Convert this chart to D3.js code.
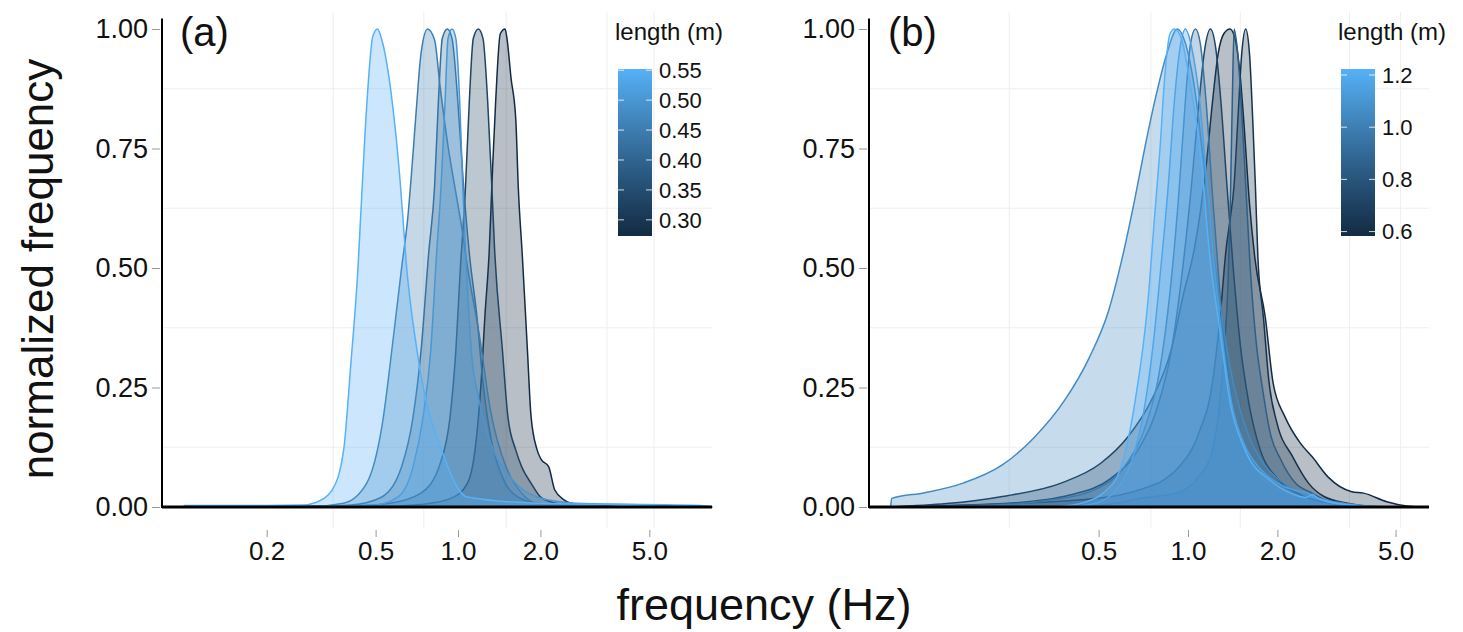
<!DOCTYPE html>
<html lang="en">
<head>
<meta charset="UTF-8">
<title>normalized frequency vs frequency (Hz)</title>
<script src="https://d3js.org/d3.v7.min.js"></script>
<style>
  body { margin: 0; background: #fff; font-family: "Liberation Sans", Arial, sans-serif; }
  text { fill: #111; }
</style>
</head>
<body>
<div id="chart"></div>
<script>
// shared y ticks
const yTicks = [0, 0.25, 0.5, 0.75, 1];
const yMinor = [0.125, 0.375, 0.625, 0.875];

// ---- panel (a) ----
const xTicksA = [0.2, 0.5, 1, 2, 5];
const xGridA = [0.35, 0.75, 1.5, 3.5, 5.2];
const legendTicksA = [0.30, 0.35, 0.40, 0.45, 0.50, 0.55];
const legendRangeA = [0.273, 0.552];
const lengthsA = [0.273, 0.33, 0.42, 0.45, 0.50, 0.552];

// [frequency (Hz), normalized frequency]
const densA_273 = [[0.10,0],[0.5,0.001],[0.75,0.006],[0.95,0.019],[1.083,0.05],[1.154,0.12],[1.214,0.26],[1.254,0.40],[1.30,0.535],[1.338,0.712],[1.373,0.85],[1.427,0.99],[1.485,1.0],[1.51,0.98],[1.56,0.90],[1.626,0.81],[1.66,0.67],[1.72,0.52],[1.793,0.328],[1.848,0.19],[1.944,0.12],[2.01,0.10],[2.145,0.084],[2.255,0.036],[2.44,0.015],[2.69,0.006],[3.0,0.006],[3.5,0.002],[4.5,0]];
const densA_330 = [[0.10,0],[0.4,0.002],[0.564,0.008],[0.732,0.029],[0.862,0.092],[0.935,0.188],[0.982,0.328],[1.02,0.50],[1.065,0.67],[1.10,0.85],[1.137,0.98],[1.186,1.0],[1.234,0.98],[1.283,0.85],[1.329,0.67],[1.36,0.54],[1.452,0.33],[1.522,0.188],[1.626,0.119],[1.709,0.084],[1.848,0.05],[2.01,0.02],[2.29,0.008],[3.0,0.003],[4.0,0]];
const densA_420 = [[0.10,0],[0.3,0.001],[0.406,0.004],[0.527,0.021],[0.622,0.084],[0.685,0.188],[0.733,0.328],[0.781,0.53],[0.821,0.67],[0.848,0.85],[0.876,0.98],[0.914,1.0],[0.951,0.98],[0.998,0.85],[1.048,0.67],[1.10,0.53],[1.173,0.397],[1.234,0.26],[1.316,0.146],[1.452,0.063],[1.654,0.021],[1.944,0.008],[3.0,0.002],[4.0,0]];
const densA_450 = [[0.10,0],[0.3,0.002],[0.382,0.008],[0.464,0.05],[0.527,0.168],[0.583,0.364],[0.622,0.5],[0.654,0.6],[0.685,0.74],[0.708,0.85],[0.733,0.95],[0.774,1.0],[0.821,0.977],[0.860,0.88],[0.920,0.754],[0.982,0.657],[1.031,0.586],[1.083,0.502],[1.193,0.364],[1.316,0.2],[1.497,0.084],[1.709,0.029],[1.944,0.008],[3.0,0.002],[4.0,0]];
const densA_500 = [[0.10,0],[0.3,0.001],[0.495,0.004],[0.603,0.021],[0.685,0.084],[0.745,0.188],[0.795,0.328],[0.835,0.53],[0.867,0.67],[0.897,0.85],[0.919,0.98],[0.951,1.0],[0.982,0.98],[1.014,0.85],[1.041,0.67],[1.065,0.538],[1.118,0.328],[1.193,0.224],[1.316,0.134],[1.549,0.063],[1.944,0.021],[2.69,0.008],[5.16,0.004],[7.0,0]];
const densA_552 = [[0.10,0.003],[0.2,0.003],[0.27,0.004],[0.304,0.01],[0.347,0.036],[0.382,0.119],[0.406,0.30],[0.431,0.5],[0.442,0.62],[0.464,0.84],[0.488,0.984],[0.508,1.0],[0.527,0.977],[0.574,0.851],[0.614,0.684],[0.630,0.6],[0.645,0.52],[0.708,0.328],[0.889,0.105],[1.079,0.021],[1.944,0.008],[7.66,0.003],[8.5,0]];

// ---- panel (b) ----
const xTicksB = [0.5, 1, 2, 5];
const xGridB = [0.25, 0.75, 1.5, 3.5, 5.2];
const legendTicksB = [0.6, 0.8, 1.0, 1.2];
const legendRangeB = [0.583, 1.223];
const lengthsB = [0.585, 0.62, 0.72, 0.85, 0.95, 1.05, 1.15, 1.223];

const densB_585 = [[0.10,0],[0.237,0.022],[0.374,0.05],[0.507,0.091],[0.628,0.147],[0.754,0.224],[0.877,0.328],[0.961,0.44],[1.05,0.54],[1.102,0.62],[1.154,0.72],[1.208,0.845],[1.264,0.949],[1.32,0.99],[1.385,1.0],[1.44,0.98],[1.50,0.90],[1.54,0.81],[1.611,0.635],[1.68,0.52],[1.82,0.398],[1.935,0.259],[2.12,0.189],[2.393,0.133],[2.62,0.105],[2.96,0.063],[3.56,0.032],[3.9,0.029],[4.67,0.011],[5.45,0.002],[6.0,0]];
const densB_620 = [[0.10,0],[0.175,0.004],[0.436,0.015],[0.688,0.036],[0.933,0.084],[1.086,0.154],[1.208,0.259],[1.283,0.398],[1.343,0.538],[1.385,0.6],[1.428,0.67],[1.472,0.81],[1.517,0.949],[1.564,1.0],[1.611,0.949],[1.652,0.81],[1.687,0.67],[1.72,0.52],[1.794,0.398],[1.876,0.259],[1.995,0.175],[2.253,0.105],[2.545,0.05],[2.87,0.022],[3.45,0.008],[4.27,0]];
const densB_720 = [[0.10,0],[0.25,0.008],[0.4,0.025],[0.55,0.06],[0.68,0.12],[0.78,0.2],[0.88,0.33],[0.96,0.5],[1.03,0.68],[1.09,0.85],[1.14,0.96],[1.19,1.0],[1.24,0.96],[1.29,0.85],[1.35,0.68],[1.42,0.5],[1.50,0.34],[1.60,0.22],[1.75,0.12],[2.0,0.06],[2.4,0.025],[3.0,0.008],[4.0,0]];
const densB_850 = [[0.45,0],[0.6,0.01],[0.688,0.018],[0.777,0.022],[0.933,0.031],[1.086,0.063],[1.19,0.105],[1.264,0.189],[1.323,0.328],[1.364,0.468],[1.39,0.65],[1.41,0.85],[1.43,1.0],[1.47,0.95],[1.55,0.72],[1.62,0.5],[1.70,0.34],[1.78,0.25],[1.9,0.15],[2.05,0.1],[2.3,0.05],[2.6,0.03],[3.0,0.01],[3.5,0]];
const densB_950 = [[0.10,0],[0.2,0.003],[0.35,0.015],[0.5,0.04],[0.62,0.09],[0.72,0.17],[0.80,0.28],[0.87,0.45],[0.93,0.65],[0.98,0.85],[1.02,0.97],[1.06,1.0],[1.10,0.97],[1.15,0.85],[1.21,0.65],[1.28,0.45],[1.35,0.30],[1.44,0.18],[1.58,0.10],[1.8,0.05],[2.1,0.025],[2.6,0.01],[3.5,0]];
const densB_1050 = [[0.0997,0],[0.1005,0.018],[0.13,0.03],[0.175,0.05],[0.237,0.088],[0.303,0.145],[0.386,0.225],[0.463,0.31],[0.54,0.41],[0.60,0.52],[0.66,0.64],[0.72,0.76],[0.78,0.86],[0.85,0.95],[0.92,1.0],[0.98,0.97],[1.05,0.88],[1.13,0.72],[1.21,0.55],[1.30,0.40],[1.42,0.26],[1.6,0.15],[1.8,0.09],[2.1,0.05],[2.5,0.025],[3.2,0.01],[4.5,0]];
const densB_1150 = [[0.40,0],[0.5,0.01],[0.58,0.04],[0.65,0.1],[0.71,0.2],[0.76,0.33],[0.81,0.5],[0.86,0.68],[0.90,0.85],[0.94,0.96],[0.98,1.0],[1.03,0.96],[1.09,0.86],[1.15,0.70],[1.22,0.52],[1.30,0.36],[1.4,0.22],[1.55,0.13],[1.75,0.08],[2.0,0.05],[2.3,0.035],[2.5,0.03],[2.7,0.02],[3.2,0.008],[4.5,0]];
const densB_1223 = [[0.36,0],[0.45,0.01],[0.52,0.03],[0.59,0.077],[0.663,0.22],[0.733,0.43],[0.77,0.6],[0.805,0.75],[0.835,0.9],[0.87,0.99],[0.90,1.0],[0.95,0.98],[1.02,0.88],[1.097,0.75],[1.186,0.52],[1.28,0.37],[1.385,0.22],[1.555,0.12],[1.888,0.056],[2.2,0.03],[2.38,0.022],[2.5,0.02],[2.62,0.026],[2.75,0.018],[3.2,0.007],[4.9,0]];

const W = 1463, H = 632;
const svg = d3.select("#chart").append("svg").attr("width", W).attr("height", H);

const y = d3.scaleLinear().domain([0, 1]).range([507, 29]);

const panels = [
  { label: "(a)", range: [162, 712], domain: [0.0829, 8.47], xTicks: xTicksA, grid: xGridA,
    lengths: lengthsA, curves: [densA_273, densA_330, densA_420, densA_450, densA_500, densA_552],
    legendRange: legendRangeA, legendTicks: legendTicksA, legendFmt: d3.format(".2f"),
    legendX: 618, labelX: 180 },
  { label: "(b)", range: [869, 1429], domain: [0.0843, 6.48], xTicks: xTicksB, grid: xGridB,
    lengths: lengthsB, curves: [densB_585, densB_620, densB_720, densB_850, densB_950, densB_1050, densB_1150, densB_1223],
    legendRange: legendRangeB, legendTicks: legendTicksB, legendFmt: d3.format(".1f"),
    legendX: 1341, labelX: 888 }
];

panels.forEach((p, pi) => {
  const x = d3.scaleLog().domain(p.domain).range(p.range);
  const color = d3.scaleLinear().domain(p.legendRange)
                  .range(["#132B43", "#56B1F7"]).interpolate(d3.interpolateLab);
  const g = svg.append("g");

  // faint grid
  g.selectAll(".hg").data(yMinor).enter().append("line")
   .attr("x1", p.range[0]).attr("x2", p.range[1])
   .attr("y1", d => y(d)).attr("y2", d => y(d))
   .attr("stroke", "#efefef").attr("stroke-width", 1);
  g.selectAll(".vg").data(p.grid).enter().append("line")
   .attr("x1", d => x(d)).attr("x2", d => x(d))
   .attr("y1", 12).attr("y2", 528)
   .attr("stroke", "#efefef").attr("stroke-width", 1);

  // densities, drawn from short to long length
  const area = d3.area()
                 .x(d => x(d[0]))
                 .y0(y(0))
                 .y1(d => y(d[1]))
                 .curve(d3.curveMonotoneX);
  const order = d3.range(p.curves.length).sort((a, b) => p.lengths[a] - p.lengths[b]);
  order.forEach(i => {
    const c = color(p.lengths[i]);
    g.append("path")
     .datum(p.curves[i])
     .attr("d", area)
     .attr("fill", c).attr("fill-opacity", 0.3)
     .attr("stroke", c).attr("stroke-width", 1.5)
     .attr("stroke-linejoin", "round");
  });

  // axis lines
  g.append("line")
   .attr("x1", p.range[0]).attr("x2", p.range[0])
   .attr("y1", y(1.022)).attr("y2", y(0) + 1)
   .attr("stroke", "#000").attr("stroke-width", 2);
  g.append("line")
   .attr("x1", p.range[0]).attr("x2", p.range[1])
   .attr("y1", y(0)).attr("y2", y(0))
   .attr("stroke", "#000").attr("stroke-width", 3);

  // y axis ticks + labels
  const ya = g.append("g")
              .attr("transform", `translate(${p.range[0] - 2},0)`)
              .call(d3.axisLeft(y).tickValues(yTicks).tickFormat(d3.format(".2f"))
                     .tickSize(8).tickPadding(4));
  ya.select(".domain").remove();
  ya.selectAll(".tick line").attr("stroke", "#999");
  ya.selectAll("text").style("font-size", "27px")
    .style("font-family", "'Liberation Sans', Arial, sans-serif").attr("fill", "#111");

  // x axis ticks + labels (sit below the zero line)
  const xa = g.append("g")
              .attr("transform", "translate(0,530)")
              .call(d3.axisBottom(x).tickValues(p.xTicks).tickFormat(d3.format(".1f"))
                     .tickSize(7).tickPadding(5));
  xa.select(".domain").remove();
  xa.selectAll(".tick line").attr("stroke", "#999");
  xa.selectAll("text").style("font-size", "26px")
    .style("font-family", "'Liberation Sans', Arial, sans-serif").attr("fill", "#111");

  // panel label
  g.append("text").attr("x", p.labelX).attr("y", 46)
   .style("font-size", "40px").text(p.label);

  // legend
  const lx = p.legendX, lTop = 69, lBot = 236, lW = 34;
  const ly = d3.scaleLinear().domain(p.legendRange).range([lBot, lTop]);
  const gradId = "grad" + pi;
  const grad = svg.append("defs").append("linearGradient").attr("id", gradId)
                  .attr("x1", 0).attr("y1", 1).attr("x2", 0).attr("y2", 0);
  d3.range(0, 1.0001, 0.1).forEach(t => {
    grad.append("stop").attr("offset", t)
        .attr("stop-color", color(p.legendRange[0] + t * (p.legendRange[1] - p.legendRange[0])));
  });
  g.append("text").attr("x", lx - 3).attr("y", 40)
   .style("font-size", "24px").text("length (m)");
  g.append("rect").attr("x", lx).attr("y", lTop).attr("width", lW).attr("height", lBot - lTop)
   .attr("fill", `url(#${gradId})`);
  p.legendTicks.forEach(t => {
    g.append("line").attr("x1", lx).attr("x2", lx + 6).attr("y1", ly(t)).attr("y2", ly(t))
     .attr("stroke", "#fff").attr("stroke-opacity", 0.8);
    g.append("line").attr("x1", lx + lW - 6).attr("x2", lx + lW).attr("y1", ly(t)).attr("y2", ly(t))
     .attr("stroke", "#fff").attr("stroke-opacity", 0.8);
    g.append("text").attr("x", lx + lW + 7).attr("y", ly(t)).attr("dy", "0.36em")
     .style("font-size", "22px").text(p.legendFmt(t));
  });
});

// shared axis titles
svg.append("text")
   .attr("transform", "translate(53,269) rotate(-90)")
   .attr("text-anchor", "middle")
   .style("font-size", "44px")
   .text("normalized frequency");

svg.append("text")
   .attr("x", 764).attr("y", 620)
   .attr("text-anchor", "middle")
   .style("font-size", "45px")
   .text("frequency (Hz)");
</script>
</body>
</html>
